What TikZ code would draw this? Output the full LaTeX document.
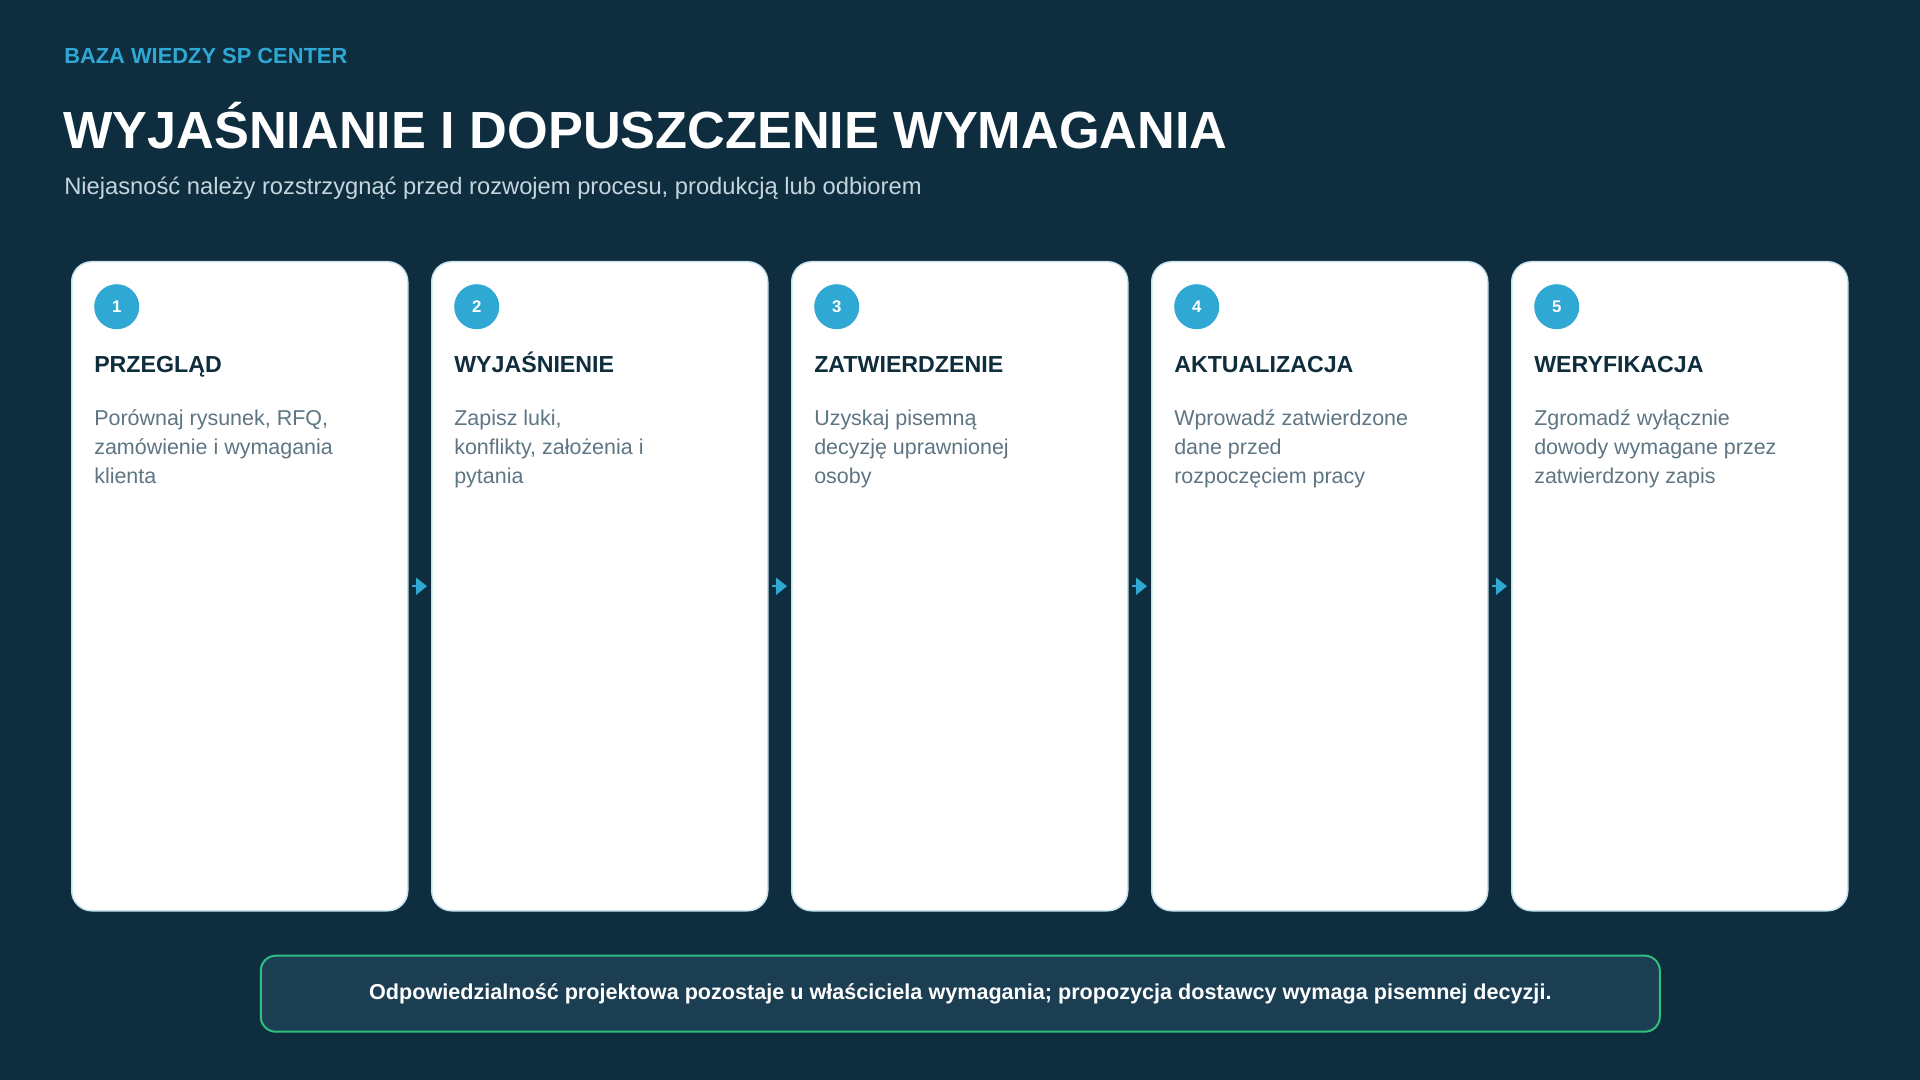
\documentclass[tikz,border=0pt]{standalone}
\usepackage{fontspec}
\setmainfont{Liberation Sans}
\usetikzlibrary{arrows.meta}
\newdimen\upx \upx=0.75pt
\definecolor{bgc}{HTML}{0E2D3F}
\definecolor{accent}{HTML}{2FA8D4}
\definecolor{cardline}{HTML}{C8E3EC}
\definecolor{titledark}{HTML}{0F2D3D}
\definecolor{bodygray}{HTML}{5E7583}
\definecolor{subgray}{HTML}{C5D5DD}
\definecolor{bannerfill}{HTML}{1B3E53}
\definecolor{bannerline}{HTML}{2FBF7F}
\tikzset{
  card/.style={draw=cardline, line width=1.5\upx, fill=white, rounded corners=20\upx,
    minimum width=336\upx, minimum height=649\upx, inner sep=0pt},
  numdot/.style={circle, fill=accent, minimum size=45\upx, inner sep=0pt,
    text=white, font=\fontsize{12.6}{14}\selectfont\bfseries},
  cardtitle/.style={anchor=base west, inner sep=0pt, text=titledark,
    font=\fontsize{17.4}{20}\selectfont\bfseries},
  cardbody/.style={anchor=base west, inner sep=0pt, text=bodygray, align=left,
    font=\fontsize{16.1}{21.5}\selectfont},
  flowarrow/.style={draw=accent, line width=1.5pt, -{Triangle[length=8.25pt,width=12.75pt]}},
}
\begin{document}
\begin{tikzpicture}[x=0.75pt, y=-0.75pt]
\fill[bgc] (0,0) rectangle (1920,1080);
\useasboundingbox (0,0) rectangle (1920,1080);

\node[anchor=base west, inner sep=0pt, text=accent, font=\fontsize{16.4}{19}\selectfont\bfseries]
  (kicker) at (64,63.3) {BAZA WIEDZY SP CENTER};
\node[anchor=base west, inner sep=0pt, text=white, font=\fontsize{39.2}{44}\selectfont\bfseries]
  (title) at (63,149) {WYJAŚNIANIE I DOPUSZCZENIE WYMAGANIA};
\node[anchor=base west, inner sep=0pt, text=subgray, font=\fontsize{17.8}{20}\selectfont]
  (subtitle) at (64,195) {Niejasność należy rozstrzygnąć przed rozwojem procesu, produkcją lub odbiorem};

% cards
\foreach \i/\num/\ttl/\la/\lb/\lc in {
  0/1/PRZEGLĄD/{Porównaj rysunek, RFQ,}/{zamówienie i wymagania}/{klienta},
  1/2/WYJAŚNIENIE/{Zapisz luki,}/{konflikty, założenia i}/{pytania},
  2/3/ZATWIERDZENIE/{Uzyskaj pisemną}/{decyzję uprawnionej}/{osoby},
  3/4/AKTUALIZACJA/{Wprowadź zatwierdzone}/{dane przed}/{rozpoczęciem pracy},
  4/5/WERYFIKACJA/{Zgromadź wyłącznie}/{dowody wymagane przez}/{zatwierdzony zapis}} {
  \pgfmathsetmacro{\xl}{71+360*\i}
  \node[card, anchor=north west] (c\num) at (\xl,261) {};
  \node[numdot] (n\num) at (\xl+45.7,306.7) {\num};
  \node[cardtitle] (t\num) at (\xl+23,372.3) {\ttl};
  \node[cardbody] (ba\num) at (\xl+23,425.7) {\la};
  \node[cardbody] (bb\num) at (\xl+23,454.4) {\lb};
  \node[cardbody] (bc\num) at (\xl+23,483.1) {\lc};
}

% arrows between cards
\foreach \a/\b in {1/2,2/3,3/4,4/5} {
  \draw[flowarrow] ([xshift=2.25pt]c\a.east) -- ([xshift=-3pt]c\b.west);
}

% banner
\node[draw=bannerline, line width=2\upx, fill=bannerfill, rounded corners=15\upx,
  minimum width=1399\upx, minimum height=76\upx, inner sep=0pt, text=white,
  font=\fontsize{16.2}{19}\selectfont\bfseries] (banner) at (960.3,993.7)
  {Odpowiedzialność projektowa pozostaje u właściciela wymagania; propozycja dostawcy wymaga pisemnej decyzji.};
\end{tikzpicture}
\end{document}
